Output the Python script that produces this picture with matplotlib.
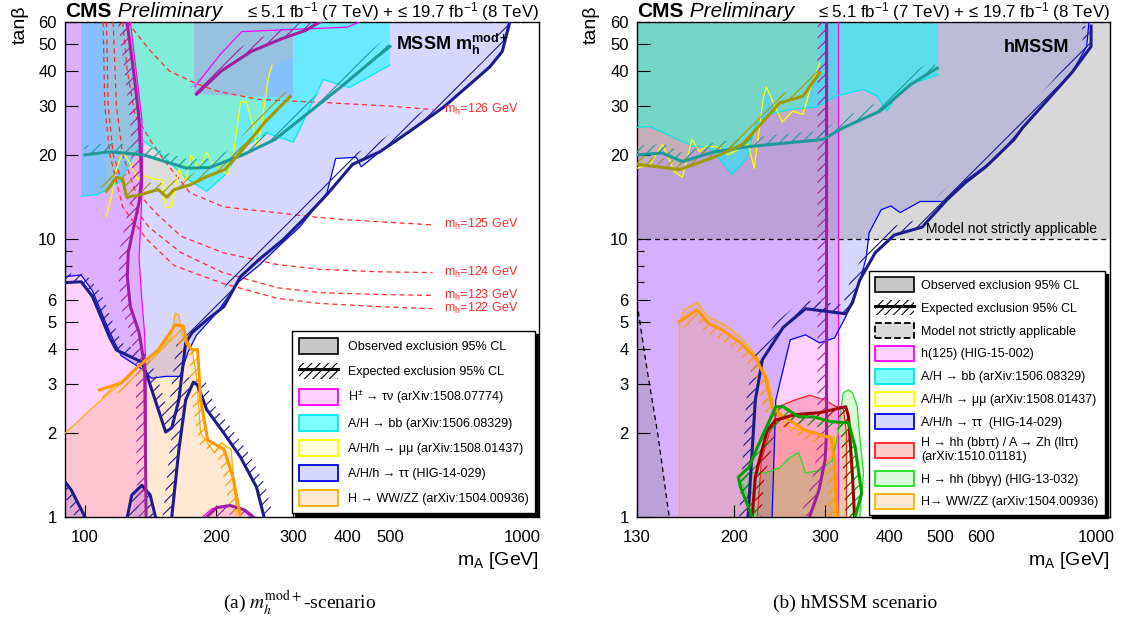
import numpy as np
import matplotlib
matplotlib.use("Agg")
import matplotlib.pyplot as plt
from matplotlib.patches import Polygon, Patch
from matplotlib.lines import Line2D
from matplotlib.legend_handler import HandlerTuple
from matplotlib.ticker import NullFormatter

plt.rcParams['font.family'] = ['Liberation Sans', 'DejaVu Sans']
plt.rcParams['mathtext.fontset'] = 'custom'
plt.rcParams['mathtext.rm'] = 'Liberation Sans'
plt.rcParams['mathtext.it'] = 'Liberation Sans:italic'
plt.rcParams['mathtext.bf'] = 'Liberation Sans:bold'
plt.rcParams['hatch.linewidth'] = 0.8

# ---------------- (a) m_h^mod+ scenario : (mA [GeV], tan beta) ----------------
tt_obs_a = [(90, 7.3), (98, 7.4), (104, 6.5), (114, 4.6), (121, 3.8), (135, 3.4), (142, 3.15),
            (153, 3.2), (165, 3.2), (172, 3.9), (180, 4.5), (200, 5.4), (225, 7.0), (250, 8.0),
            (280, 9.5), (310, 11.0), (358, 14.6), (375, 19.4), (418, 19.6), (429, 18.1),
            (473, 20.5), (550, 24.0), (660, 29.5), (770, 36.5), (840, 41.0), (900, 47.0), (935, 60)]
tt_obs_a_close = [(90, 60)]
tt_exp_a = [(90, 6.95), (98, 7.0), (104, 6.2), (114, 4.4), (118, 3.98), (135, 3.6), (139, 3.19),
            (153, 2.02), (158, 2.09), (164, 2.63), (170, 4.22), (176, 4.6), (190, 5.1), (208, 5.7),
            (227, 7.3), (250, 8.4), (284, 9.9), (316, 11.7), (358, 14.4), (410, 18.5), (473, 20.5),
            (554, 24.3), (661, 29.6), (774, 36.7), (845, 41.4), (902, 47), (939, 60)]
tt_dome_exp_a = [(158, 1), (164, 1.74), (170, 2.63), (177, 3.05), (181, 2.98), (190, 2.43),
                 (208, 2.0), (227, 1.64), (247, 1.28), (257, 1.0)]
tt_low1_obs_a = [(90, 1), (90, 1.3), (95, 1.15), (99, 1)]
tt_low1_exp_a = [(90, 1.34), (93, 1.25), (97, 1.1), (100, 1.0)]
tt_low2_obs_a = [(127, 1), (130, 1.22), (135, 1.28), (140, 1.2), (143, 1)]
tt_low2_exp_a = [(125, 1), (128, 1.2), (135, 1.3), (141, 1.2), (145, 1)]

hc_obs_a = [(127, 60), (131, 40), (135, 26.8), (135.5, 16.3), (134, 11), (133, 8.5), (135, 6),
            (137, 4.5), (138, 3), (138, 1)]
hc_obs_a_close = [(90, 1), (90, 60)]
hc_exp_a = [(124.8, 60), (130, 37), (133, 26.8), (134.7, 16.3), (133, 13.5), (125.6, 8.9),
            (125, 7.3), (127, 5.7), (133, 4.6), (137, 3.46), (138, 1)]
hc_up_obs_a = [(178.6, 35.2), (204, 45.9), (228.6, 55.4), (398, 57.5), (425, 60)]
hc_up_region_a = [(178, 33), (178, 60), (300, 60), (300, 32)]
hc_up_exp_a = [(180, 33), (205, 40), (240, 47), (280, 52), (320, 56), (345, 60)]
hc_low_obs_a = [(186, 1), (195, 1.07), (211, 1.1), (228, 1.07), (240, 1)]
hc_low_exp_a = [(190, 1), (200, 1.08), (215, 1.1), (232, 1.06), (243, 1)]

bb_obs_a = [(98, 60), (98, 14.2), (107, 14.4), (120, 16), (135, 22.7), (150, 20), (170, 16.5),
            (190, 14.8), (210, 17), (227, 20.9), (260, 24), (300, 22.2), (351, 37.3), (403, 34.9),
            (499, 42), (499, 60)]
bb_exp_a = [(100, 20), (114, 20.5), (136, 20), (171, 17.9), (193, 18), (230, 20), (272, 22.7),
            (321, 27.9), (384, 34.9), (465, 44.9), (499, 49)]

mm_obs_a = [(112, 12), (116, 15), (118, 17.7), (122, 20.4), (126, 19), (132, 16.3), (137, 16.8),
            (145, 16.3), (150, 16.3), (153, 12.9), (158, 13), (164, 17.7), (170, 16), (175, 20),
            (182, 17.7), (190, 20.4), (196, 18.5), (204, 17.8), (212, 17), (219, 20.4), (227, 31),
            (234, 31), (242, 25.7), (248, 21.2), (254, 25.7), (262, 36.6), (268, 42)]
mm_obs_a_close = [(300, 45), (300, 60), (112, 60)]
mm_exp_a = [(112, 14.8), (118, 16.6), (122, 16.4), (124.5, 14.1), (132, 14.3), (147, 15),
            (154, 14.1), (160, 15), (174, 15.6), (190, 16.7), (209, 17.7), (227, 20.4), (257, 26),
            (295, 32.4)]

ww_obs_a = [(90, 2.0), (108, 2.6), (120, 3.0), (132, 3.46), (147, 3.98), (157, 4.4), (161, 5.4),
            (164, 5.3), (167, 4.5), (172, 4.3), (176, 3.98), (180, 3.2), (184, 2.0), (198, 1.7),
            (205, 1.85), (216, 1.75), (219, 1.36), (223, 1.0)]
ww_obs_a_close = [(90, 1)]
ww_exp_a = [(108, 2.86), (121, 3.03), (132, 3.46), (147, 3.98), (161, 4.9), (168, 4.85),
            (171, 4.2), (176, 3.98), (181, 4.0), (184, 2.63), (191, 1.89), (208, 1.75),
            (218, 1.4), (227, 1.0)]

# m_h contours of the scenario
mh_values = [126, 125, 124, 123, 122]
mh_curves = [
    [(125, 60), (140, 48), (156, 40), (180, 36), (203, 33.7), (251, 31.6), (356, 30.8),
     (504, 29.9), (625, 29.1)],
    [(122, 60), (125, 40), (130, 28), (142, 22.2), (153, 18.8), (174, 14.6), (208, 13),
     (274, 12.4), (327, 12), (394, 11.7), (472, 11.5), (625, 11.2)],
    [(116, 60), (118, 30), (122, 20), (130, 15), (145, 12.4), (166, 10.2), (207, 8.9),
     (276, 8.07), (345, 7.76), (470, 7.6), (625, 7.55)],
    [(112, 60), (113, 30), (116, 20), (125, 14), (140, 11), (166, 8.9), (207, 7.55),
     (276, 6.66), (345, 6.4), (470, 6.3), (625, 6.25)],
    [(110, 60), (111, 30), (114, 20), (122, 13), (138, 10), (160, 8), (207, 6.9), (276, 6.1),
     (345, 5.85), (470, 5.7), (625, 5.6)],
]

# ---------------- (b) hMSSM scenario ----------------
h125_obs_b = [(318, 60), (318, 1)]
h125_obs_b_close = [(130, 1), (130, 60)]
h125_exp_b = [(302, 60), (302, 2.0), (300, 1.6), (292, 1.25), (280, 1.0)]

tt_obs_b = [(237, 1), (241, 2.63), (257, 4.33), (275, 4.51), (293, 4.22), (313, 4.4), (329, 5.25),
            (350, 7.0), (360, 8.5), (365, 10.5), (385, 12.7), (402, 13.1), (419, 12.4),
            (458, 13.6), (509, 13.6), (562, 16.2), (642, 19.5), (722, 25), (813, 32),
            (901, 39.7), (960, 49), (970, 60)]
tt_obs_b_close = [(130, 60), (130, 1)]
tt_exp_b = [(213, 1), (220, 2.63), (227, 3.67), (249, 4.8), (275, 5.6), (329, 5.37), (339, 5.9),
            (350, 7.1), (375, 8.9), (408, 10.3), (462, 11), (516, 13.8), (560, 15.9), (613, 18.1),
            (695, 22.7), (722, 25), (813, 32), (901, 39.7), (979, 49), (979, 58)]

bb_obs_b = [(130, 25.1), (137.6, 25.3), (154, 23), (166, 21.5), (179, 21.3), (185, 20), (198, 17),
            (212, 19.5), (220, 25.7), (233, 27.9), (256, 29.1), (289, 29.7), (315, 32.5),
            (356, 34.4), (378, 32.5), (395, 28.7), (412, 32.9), (452, 36.6), (496, 38.8), (496, 60)]
bb_obs_b_close = [(130, 60)]
bb_exp_b = [(130, 20), (145.6, 20.3), (159, 18.9), (183, 20.5), (213, 21.4), (297, 22.7),
            (325, 25), (383, 28.7), (439, 35.8), (494, 41)]

mm_obs_b = [(130, 17.9), (137.6, 18.4), (145.6, 21.8), (153.5, 17.4), (159, 16.6), (166, 22.7),
            (171.5, 20.5), (177, 21.5), (187, 21.3), (195, 20), (213, 21.8), (219, 17.9),
            (228, 32), (231, 35), (248, 26.2), (260, 28.7), (272, 27.9), (280, 33.8), (293, 42.8)]
mm_obs_b_close = [(293, 60), (130, 60)]
mm_exp_b = [(130, 18.5), (157, 17.7), (183, 19.6), (208, 21.8), (245, 30.7), (272, 32.5),
            (293, 39.5)]

bbtt_obs_b = [(222, 1), (226, 1.6), (235, 2.05), (245, 2.5), (262, 2.63), (280, 2.74), (300, 2.63),
              (315, 2.49), (325, 2.49), (330, 2.0), (330, 1.0)]
bbtt_exp_b = [(217, 1), (220, 1.39), (224, 1.6), (232, 2.05), (241, 2.23), (262, 2.33),
              (293, 2.37), (329, 2.49), (333, 2.29), (339, 1.39), (342, 1.0)]

bbgg_obs_b = [(222, 1), (206, 1.35), (214, 1.44), (230, 1.44), (245, 1.5), (257, 1.64), (267, 1.7),
              (275, 1.44), (293, 1.47), (310, 1.6), (318, 2.0), (325, 2.79), (333, 2.86),
              (339, 2.79), (346, 2.5), (350, 1.94), (356, 1.44), (350, 1.0)]
bbgg_exp_b = [(217, 1), (206, 1.28), (204, 1.39), (214, 1.51), (222, 1.78), (241, 2.49),
              (249, 2.49), (267, 2.29), (285, 2.29), (308, 2.2), (333, 2.18), (343, 1.78),
              (353, 1.22), (343, 1.0)]

ww_obs_b = [(157, 1), (157, 5.0), (160, 5.55), (170, 5.9), (178, 5.25), (192, 4.9), (206, 4.44),
            (222, 3.76), (233, 3.1), (240, 2.4), (257, 2.1), (285, 2.0), (313, 1.94), (313, 1.0)]
ww_exp_b = [(157, 5.03), (170, 5.55), (178, 4.98), (190, 4.7), (206, 4.22), (220, 3.73),
            (230, 3.19), (237, 2.49), (249, 2.29), (275, 2.05), (308, 1.92), (313, 1.6), (317, 1.0)]

na_tanb = 10
na_corner_b = [(130, 5.88), (135.8, 3.43), (142.7, 1.97), (150, 1)]

XLIM_A = (90, 1095)
XLIM_B = (130, 1065)

# colours: observed edge, expected line, fill
C_TT, E_TT, F_TT = '#0000ff', '#1c1c8c', (0, 0, 1, 0.16)
C_HC, E_HC, F_HC = '#ff00ff', '#a01fa0', (1, 0, 1, 0.18)
C_BB, E_BB, F_BB = '#00e8f0', '#1f9a9a', (0, 1, 1, 0.5)
C_MM, E_MM, F_MM = '#ffff00', '#a09a00', (1, 1, 0, 0.15)
C_WW, E_WW, F_WW = '#ffb000', '#ff9900', (1, 0.55, 0.1, 0.2)
C_RD, E_RD, F_RD = '#ff2020', '#a00000', (1, 0, 0, 0.2)
C_GR, E_GR, F_GR = '#20e020', '#00a000', (0, 0.9, 0, 0.15)
F_NA = (0.5, 0.5, 0.5, 0.3)
C_MH = '#ff2a2a'


def region(ax, pts, fc, z=1):
    ax.add_patch(Polygon(np.array(pts, float), closed=True, fc=fc, ec='none', lw=0, zorder=z))


def contour(ax, pts, color, lw=0.9, z=4, **kw):
    xy = np.array(pts, float)
    ax.plot(xy[:, 0], xy[:, 1], color=color, lw=lw, zorder=z, **kw)


def expected(ax, pts, color, side, width=9.0):
    xy = np.array(pts, float)
    ax.plot(xy[:, 0], xy[:, 1], color=color, lw=2.2, zorder=6, solid_joinstyle='round')
    disp = ax.transData.transform(xy)
    d = np.gradient(disp, axis=0)
    n = np.column_stack([-d[:, 1], d[:, 0]])
    n /= np.linalg.norm(n, axis=1)[:, None]
    band = np.vstack([disp, (disp + side * width * n)[::-1]])
    ax.add_patch(Polygon(ax.transData.inverted().transform(band), closed=True, fill=False,
                         hatch='///', edgecolor=color, lw=0, zorder=5))


fig = plt.figure(figsize=(11.24, 6.25), dpi=100)
axa = fig.add_axes([65 / 1124, 108 / 625, 474 / 1124, 495 / 625])
axb = fig.add_axes([637 / 1124, 108 / 625, 473 / 1124, 495 / 625])

yt = [1, 2, 3, 4, 5, 6, 10, 20, 30, 40, 50, 60]
for ax, xl, xt, xm in ((axa, XLIM_A, [100, 200, 300, 400, 500, 1000], [600, 700, 800, 900]),
                       (axb, XLIM_B, [130, 200, 300, 400, 500, 600, 1000], [700, 800, 900])):
    ax.set_xscale('log')
    ax.set_yscale('log')
    ax.set_xlim(xl)
    ax.set_ylim(1, 60)
    ax.set_xticks(xt)
    ax.set_xticklabels([str(v) for v in xt])
    ax.set_xticks(xm, minor=True)
    ax.xaxis.set_minor_formatter(NullFormatter())
    ax.set_yticks(yt)
    ax.set_yticklabels([str(v) for v in yt])
    ax.set_yticks([7, 8, 9], minor=True)
    ax.yaxis.set_minor_formatter(NullFormatter())
    ax.tick_params(which='both', direction='in', labelsize=12, width=0.8)
    ax.tick_params(which='major', length=9, pad=6)
    ax.tick_params(axis='x', which='major', pad=9)
    ax.tick_params(which='minor', length=5)
    for s in ax.spines.values():
        s.set_linewidth(1.0)

# ---- panel (a) ----
ax = axa
region(ax, tt_obs_a + tt_obs_a_close, F_TT)
region(ax, tt_low1_obs_a, F_TT)
region(ax, tt_low2_obs_a, F_TT)
region(ax, bb_obs_a, F_BB)
region(ax, mm_obs_a + mm_obs_a_close, F_MM)
region(ax, hc_obs_a_close + hc_obs_a, F_HC)
region(ax, hc_up_region_a, F_HC)
region(ax, hc_low_obs_a, F_HC)
region(ax, ww_obs_a + ww_obs_a_close, F_WW)

for pts, v in zip(mh_curves, mh_values):
    contour(ax, pts, C_MH, lw=0.9, z=3, ls=(0, (4, 3)))
    ax.text(665, pts[-1][1], 'm$_{\\rm h}$=%d GeV' % v, color=C_MH, fontsize=9, va='center', zorder=7)

contour(ax, tt_obs_a, C_TT)
contour(ax, bb_obs_a[1:-1], C_BB)
contour(ax, mm_obs_a, C_MM)
contour(ax, hc_obs_a, C_HC)
contour(ax, hc_up_obs_a, C_HC)
contour(ax, hc_low_obs_a, C_HC)
contour(ax, ww_obs_a, C_WW)

expected(ax, tt_exp_a, E_TT, 1)
expected(ax, tt_dome_exp_a, E_TT, 1)
expected(ax, tt_low1_exp_a, E_TT, -1)
expected(ax, tt_low2_exp_a, E_TT, -1)
expected(ax, hc_exp_a, E_HC, -1)
expected(ax, hc_up_exp_a, E_HC, 1)
expected(ax, hc_low_exp_a, E_HC, -1)
expected(ax, bb_exp_a, E_BB, 1)
expected(ax, mm_exp_a, E_MM, 1)
expected(ax, ww_exp_a, E_WW, -1)

ax.text(0.698, 0.943, 'MSSM $\\mathbf{m}_{\\mathbf{h}}^{\\mathbf{mod+}}$', transform=ax.transAxes,
        fontsize=13, fontweight='bold', va='baseline', zorder=8)

# ---- panel (b) ----
ax = axb
region(ax, h125_obs_b_close + h125_obs_b, F_HC)
region(ax, tt_obs_b + tt_obs_b_close, F_TT)
region(ax, [(XLIM_B[0], na_tanb), (XLIM_B[1], na_tanb), (XLIM_B[1], 60), (XLIM_B[0], 60)], F_NA)
region(ax, [(130, 1)] + na_corner_b, F_NA)
region(ax, bb_obs_b + bb_obs_b_close, F_BB)
region(ax, mm_obs_b + mm_obs_b_close, F_MM)
region(ax, ww_obs_b, F_WW)
region(ax, bbtt_obs_b, F_RD)
region(ax, bbgg_obs_b, F_GR)

ax.axhline(na_tanb, color='k', lw=0.9, ls=(0, (4, 3)), zorder=4)
contour(ax, na_corner_b, 'k', lw=0.9, ls=(0, (4, 3)))

contour(ax, h125_obs_b, C_HC)
contour(ax, tt_obs_b, C_TT)
contour(ax, bb_obs_b[:-1], C_BB)
contour(ax, mm_obs_b, C_MM)
contour(ax, ww_obs_b, C_WW)
contour(ax, bbtt_obs_b, C_RD)
contour(ax, bbgg_obs_b, C_GR)

expected(ax, h125_exp_b, E_HC, -1)
expected(ax, tt_exp_b, E_TT, 1)
expected(ax, bb_exp_b, E_BB, 1)
expected(ax, mm_exp_b, E_MM, 1)
expected(ax, ww_exp_b, E_WW, -1)
expected(ax, bbtt_exp_b, E_RD, -1)
expected(ax, bbgg_exp_b, E_GR, -1)

ax.text(0.844, 0.939, 'hMSSM', transform=ax.transAxes, fontsize=13, fontweight='bold',
        ha='center', va='baseline', zorder=8)
ax.text(0.972, 0.574, 'Model not strictly applicable', transform=ax.transAxes, fontsize=10,
        ha='right', va='baseline', zorder=8)

# ---- legends ----
obs_h = Patch(fc='#c8c8c8', ec='k', lw=1.2)
exp_h = (Patch(fc='none', ec='k', hatch='////', lw=0), Line2D([], [], color='k', lw=2.2))


def proc(fc, ec, ls='-'):
    return Patch(fc=fc, ec=ec, lw=1.3, ls=ls)


leg_a = axa.legend(
    [obs_h, exp_h, proc(F_HC, C_HC), proc(F_BB, C_BB), proc(F_MM, C_MM), proc(F_TT, C_TT),
     proc(F_WW, C_WW)],
    ['Observed exclusion 95% CL', 'Expected exclusion 95% CL',
     'H$^{\\pm}$ → τν (arXiv:1508.07774)', 'A/H → bb (arXiv:1506.08329)',
     'A/H/h → μμ (arXiv:1508.01437)', 'A/H/h → ττ (HIG-14-029)', 'H → WW/ZZ (arXiv:1504.00936)'],
    handler_map={tuple: HandlerTuple(ndivide=1)},
    loc='lower right', bbox_to_anchor=(0.992, 0.008), fontsize=9, handlelength=3.1,
    handleheight=1.6, labelspacing=0.72, borderpad=0.55, handletextpad=0.8, borderaxespad=0,
    fancybox=False, edgecolor='k', framealpha=1, shadow={'color': 'black', 'alpha': 1})
leg_a.get_frame().set_linewidth(1.0)
leg_a.set_zorder(20)

leg_b = axb.legend(
    [obs_h, exp_h, proc('#d9d9d9', 'k', '--'), proc(F_HC, C_HC), proc(F_BB, C_BB),
     proc(F_MM, C_MM), proc(F_TT, C_TT), proc(F_RD, C_RD), proc(F_GR, C_GR), proc(F_WW, C_WW)],
    ['Observed exclusion 95% CL', 'Expected exclusion 95% CL', 'Model not strictly applicable',
     'h(125) (HIG-15-002)', 'A/H → bb (arXiv:1506.08329)', 'A/H/h → μμ (arXiv:1508.01437)',
     'A/H/h → ττ  (HIG-14-029)', 'H → hh (bbττ) / A → Zh (llττ)\n(arXiv:1510.01181)',
     'H → hh (bbγγ) (HIG-13-032)', 'H→ WW/ZZ (arXiv:1504.00936)'],
    handler_map={tuple: HandlerTuple(ndivide=1)},
    loc='lower right', bbox_to_anchor=(0.989, 0.004), fontsize=9, handlelength=3.1,
    handleheight=1.45, labelspacing=0.64, borderpad=0.5, handletextpad=0.6, borderaxespad=0,
    fancybox=False, edgecolor='k', framealpha=1, shadow={'color': 'black', 'alpha': 1})
leg_b.get_frame().set_linewidth(1.0)
leg_b.set_zorder(20)

# ---- titles and axis labels ----
for ax in (axa, axb):
    t1 = ax.text(0.0, 1.01, 'CMS', transform=ax.transAxes, fontsize=15, fontweight='bold',
                 va='baseline', ha='left')
    ax.annotate(' Preliminary', xy=(1, 0), xycoords=t1, fontsize=15, style='italic',
                va='bottom', ha='left')
    ax.text(1.0, 1.01, '≤ 5.1 fb$^{-1}$ (7 TeV) + ≤ 19.7 fb$^{-1}$ (8 TeV)',
            transform=ax.transAxes, fontsize=12.2, va='baseline', ha='right')
    ax.set_xlabel('m$_{\\rm A}$ [GeV]', fontsize=14, loc='right', labelpad=4)

fig.text(20 / 1124, 1 - 6 / 625, 'tanβ', rotation=90, fontsize=14, ha='center', va='top')
fig.text(591 / 1124, 1 - 6 / 625, 'tanβ', rotation=90, fontsize=14, ha='center', va='top')

fig.text(300 / 1124, 1 - 603 / 625, '(a) $m_h^{\\mathrm{mod+}}$-scenario', fontsize=14,
         family='Liberation Serif', math_fontfamily='stix', ha='center', va='center')
fig.text(855 / 1124, 1 - 603 / 625, '(b) hMSSM scenario', fontsize=14,
         family='Liberation Serif', ha='center', va='center')

fig.savefig('out.png', dpi=100)
